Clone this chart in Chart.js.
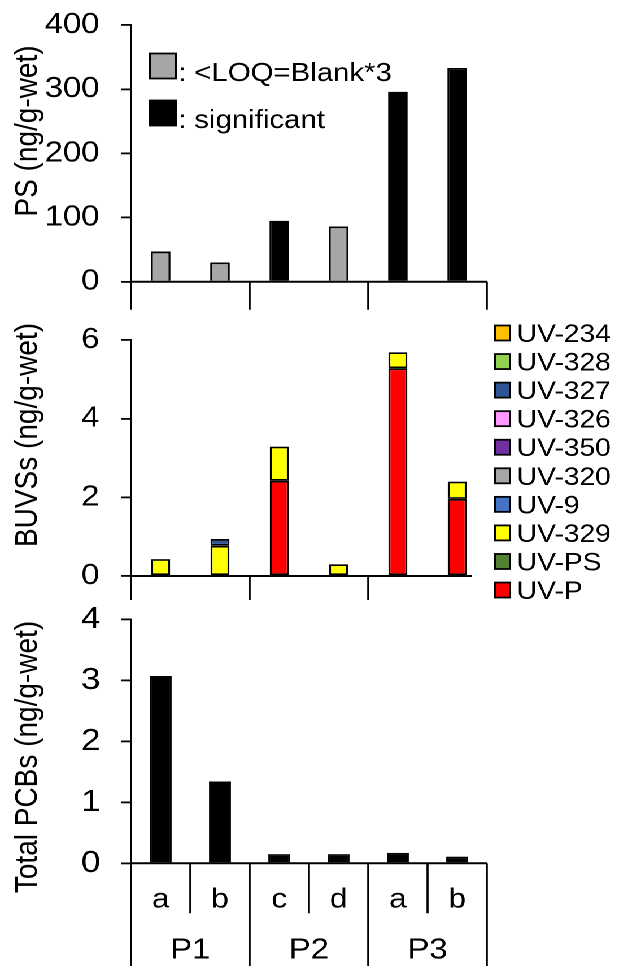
<!DOCTYPE html>
<html><head><meta charset="utf-8">
<script src="https://cdn.jsdelivr.net/npm/chart.js@4.4.1/dist/chart.umd.min.js"></script>
<style>
html,body{margin:0;padding:0;background:#fff;overflow:hidden;width:619px;height:966px;}
#fig{position:absolute;left:0;top:0;width:548px;height:966px;transform:scaleX(1.12956);transform-origin:0 0;}
.pane{position:absolute;left:0;width:548px;}
</style></head><body>
<div id="fig">
<div class="pane" style="top:0;height:315px"><canvas id="c1"></canvas></div>
<div class="pane" style="top:315px;height:295px"><canvas id="c2"></canvas></div>
<div class="pane" style="top:580px;height:386px"><canvas id="c3"></canvas></div>
</div>
<script>
// ---------- data ----------
const sampleLabels = ['a', 'b', 'c', 'd', 'a', 'b'];
const siteLabels = ['P1', 'P2', 'P3'];
const siteSpans = [2, 2, 2];

const psValues = [47, 30, 95, 86, 296, 333];
const psStatus = ['<LOQ', '<LOQ', 'sig', '<LOQ', 'sig', 'sig'];
const psTicks = [0, 100, 200, 300, 400];
const psLegendText = [': <LOQ=Blank*3', ': significant'];

const buvsNames = ['UV-P', 'UV-PS', 'UV-329', 'UV-9', 'UV-320', 'UV-350', 'UV-326', 'UV-327', 'UV-328', 'UV-234'];
const uvP   = [0, 0, 2.42, 0, 5.28, 1.96];
const uvPS  = [0, 0, 0, 0, 0, 0];
const uv329 = [0.43, 0.77, 0.87, 0.30, 0.41, 0.44];
const uv9   = [0, 0, 0, 0, 0, 0];
const uv320 = [0, 0, 0, 0, 0, 0];
const uv350 = [0, 0, 0, 0, 0, 0];
const uv326 = [0, 0, 0, 0, 0, 0];
const uv327 = [0, 0.17, 0, 0, 0, 0];
const uv328 = [0, 0, 0, 0, 0, 0];
const uv234 = [0, 0, 0, 0, 0, 0];
const buvsTicks = [0, 2, 4, 6];

const pcbValues = [3.07, 1.34, 0.15, 0.15, 0.17, 0.11];
const pcbTicks = [0, 1, 2, 3, 4];

// ---------- styles ----------
const FONT = "'Liberation Sans', Arial, Helvetica, sans-serif";
const TXT = '#000';
Chart.defaults.font.family = FONT;
Chart.defaults.color = TXT;
const AXIS_X = 116;
const RIGHT_PAD = 117;
const statusColor = {'<LOQ': '#A6A6A6', 'sig': '#000000'};
const buvsColors = ['#FF0000', '#548235', '#FFFF00', '#4472C4', '#A6A6A6', '#7030A0', '#FF99FF', '#2F5597', '#92D050', '#FFC000'];
const buvsSeries = [uvP, uvPS, uv329, uv9, uv320, uv350, uv326, uv327, uv328, uv234];

const decor = {
  id: 'decor',
  afterDraw(chart, args, o) {
    const ctx = chart.ctx, ca = chart.chartArea;
    const xs = chart.scales.x, ys = chart.scales.y;
    const y0 = ys.getPixelForValue(0);
    const step = xs.getPixelForValue(1) - xs.getPixelForValue(0);
    const edge = i => xs.getPixelForValue(0) + (i - 0.5) * step;
    ctx.save();
    ctx.strokeStyle = '#000';
    ctx.lineWidth = 2;
    ctx.beginPath(); ctx.moveTo(ca.left, y0); ctx.lineTo(ca.right - (o.baseTrim || 0), y0); ctx.stroke();
    ctx.lineWidth = 1.8;
    (o.dividers || []).forEach(d => {
      const x = edge(d.at);
      ctx.beginPath(); ctx.moveTo(x, y0); ctx.lineTo(x, y0 + d.len); ctx.stroke();
    });
    ctx.fillStyle = TXT;
    if (o.sub) {
      ctx.font = o.sub.size + 'px ' + FONT;
      ctx.textAlign = 'center'; ctx.textBaseline = 'alphabetic';
      o.sub.labels.forEach((t, i) => ctx.fillText(t, xs.getPixelForValue(i), y0 + o.sub.dy));
    }
    if (o.groups) {
      ctx.font = o.groups.size + 'px ' + FONT;
      ctx.textAlign = 'center'; ctx.textBaseline = 'alphabetic';
      let start = 0;
      o.groups.labels.forEach((t, g) => {
        const n = o.groups.spans[g];
        ctx.fillText(t, (edge(start) + edge(start + n)) / 2, y0 + o.groups.dy);
        start += n;
      });
    }
    if (o.title) {
      ctx.save();
      ctx.translate(o.title.x, o.title.y);
      ctx.rotate(-Math.PI / 2);
      ctx.font = o.title.size + 'px ' + FONT;
      ctx.textAlign = 'center'; ctx.textBaseline = 'middle';
      ctx.fillText(o.title.text, 0, 0);
      ctx.restore();
    }
    if (o.legend) {
      const L = o.legend;
      ctx.font = L.size + 'px ' + FONT;
      ctx.textAlign = 'left'; ctx.textBaseline = 'alphabetic';
      L.items.forEach((it, k) => {
        const cy = L.y0 + k * L.dy;
        ctx.fillStyle = it.color;
        ctx.fillRect(L.x, cy - L.h / 2, L.w, L.h);
        ctx.lineWidth = 1.8; ctx.strokeStyle = '#000';
        ctx.strokeRect(L.x, cy - L.h / 2, L.w, L.h);
        ctx.fillStyle = TXT;
        ctx.fillText(it.text, L.tx, cy + L.textDy);
      });
    }
    ctx.restore();
  }
};

function yScale(ticksArr, size, pad, stacked) {
  return {
    stacked: !!stacked,
    min: ticksArr[0], max: ticksArr[ticksArr.length - 1],
    afterBuildTicks: s => { s.ticks = ticksArr.map(v => ({value: v})); },
    afterFit: s => { s.width = AXIS_X; s.paddingTop = 0; s.paddingBottom = 0; },
    grid: {drawOnChartArea: false, drawTicks: true, tickLength: 9, color: '#000', lineWidth: 1.8},
    border: {display: true, color: '#000', width: 1.8},
    ticks: {color: TXT, font: {size: size}, padding: pad}
  };
}
function baseOpts(padTop, padBottom, yOpts, stacked, decorOpts) {
  return {
    responsive: true, maintainAspectRatio: false, animation: false, devicePixelRatio: 2,
    layout: {padding: {top: padTop, bottom: padBottom, left: 0, right: RIGHT_PAD}},
    scales: {x: {display: false, stacked: !!stacked}, y: yOpts},
    plugins: {legend: {display: false}, tooltip: {enabled: false}, decor: decorOpts}
  };
}

// ---------- panel 1: PS ----------
new Chart(document.getElementById('c1'), {
  type: 'bar',
  data: {labels: sampleLabels, datasets: [{
    label: 'PS', data: psValues,
    backgroundColor: psStatus.map(s => statusColor[s]),
    borderColor: '#000', borderWidth: 1.8,
    barPercentage: 0.33, categoryPercentage: 1
  }]},
  options: baseOpts(25, 33.3, yScale(psTicks, 29, 19), false, {
    dividers: [{at: 0, len: 28}, {at: 2, len: 28}, {at: 4, len: 28}, {at: 6, len: 28}],
    title: {text: 'PS (ng/g-wet)', x: 25, y: 131, size: 28},
    legend: {x: 132.8, w: 23, h: 25, y0: 66, dy: 47, tx: 157.6, size: 26, textDy: 14.8,
      items: [{color: statusColor['<LOQ'], text: psLegendText[0]}, {color: statusColor['sig'], text: psLegendText[1]}]}
  }),
  plugins: [decor]
});

// ---------- panel 2: BUVSs ----------
new Chart(document.getElementById('c2'), {
  type: 'bar',
  data: {labels: sampleLabels, datasets: buvsNames.map((n, k) => ({
    label: n, data: buvsSeries[k], backgroundColor: buvsColors[k],
    borderColor: '#000', borderWidth: 1.8, borderSkipped: false,
    barPercentage: 0.32, categoryPercentage: 1
  }))},
  options: baseOpts(25, 34, yScale(buvsTicks, 29, 19, true), true, {
    baseTrim: 13,
    dividers: [{at: 0, len: 24}, {at: 2, len: 24}, {at: 4, len: 24}],
    title: {text: 'BUVSs (ng/g-wet)', x: 25, y: 120, size: 28},
    legend: {x: 438.2, w: 13.3, h: 15, y0: 18, dy: 28.56, tx: 457.4, size: 25, textDy: 9,
      items: buvsNames.map((n, k) => ({text: n, color: buvsColors[k]})).reverse()}
  }),
  plugins: [decor]
});

// ---------- panel 3: PCBs ----------
new Chart(document.getElementById('c3'), {
  type: 'bar',
  data: {labels: sampleLabels, datasets: [{
    label: 'Total PCBs', data: pcbValues,
    backgroundColor: '#000', borderColor: '#000', borderWidth: 1.5,
    barPercentage: 0.37, categoryPercentage: 1
  }]},
  options: baseOpts(39.3, 102.7, yScale(pcbTicks, 31, 18), false, {
    dividers: [{at: 1, len: 50}, {at: 3, len: 50}, {at: 5, len: 50},
               {at: 0, len: 110}, {at: 2, len: 110}, {at: 4, len: 110}, {at: 6, len: 110}],
    sub: {labels: sampleLabels, dy: 44, size: 28},
    groups: {labels: siteLabels, spans: siteSpans, dy: 95, size: 29},
    title: {text: 'Total PCBs (ng/g-wet)', x: 25, y: 177, size: 28}
  }),
  plugins: [decor]
});
</script>
</body></html>
